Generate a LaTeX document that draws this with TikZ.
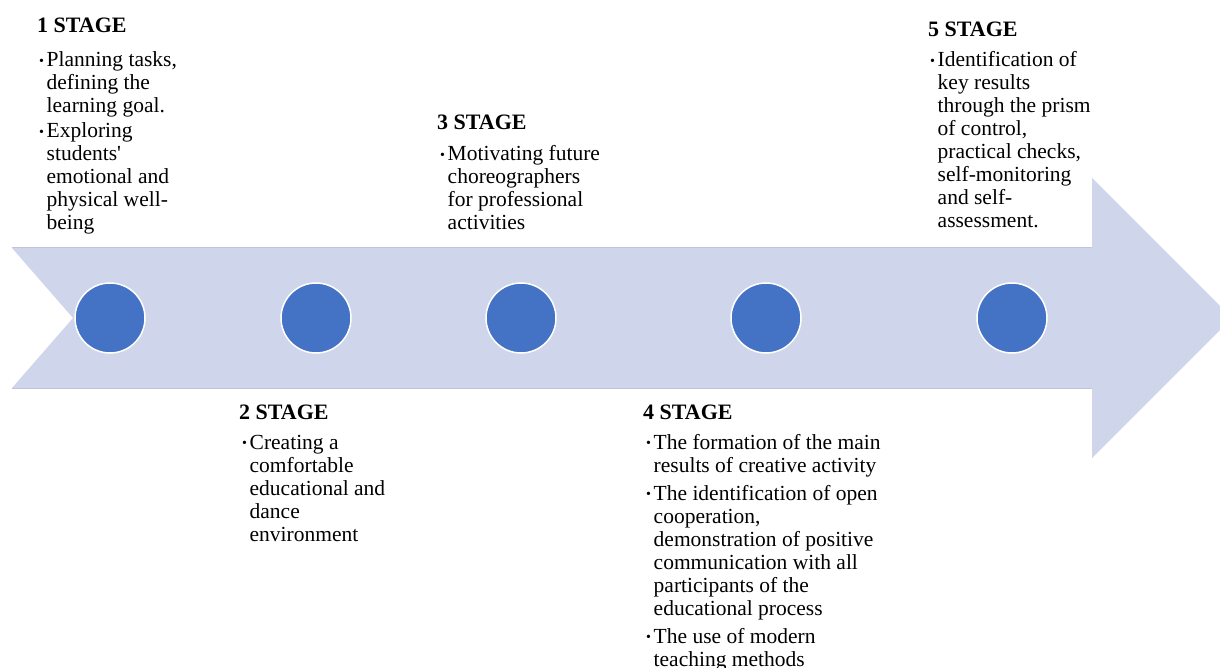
\documentclass[tikz,border=0pt]{standalone}
\usepackage{fontspec}
\setmainfont{Liberation Serif}
\usepackage{xcolor}
\usetikzlibrary{positioning}
\definecolor{Band_Blue}{HTML}{CFD5EA}
\definecolor{Dot_Blue}{HTML}{4472C4}
\definecolor{Edge_Gray}{HTML}{C2C6D2}

\newcommand{\stagebullet}{\makebox[7.5pt][l]{\raisebox{1.5pt}{\fontsize{14}{14}\selectfont\textbullet}}}

\begin{document}
\begin{tikzpicture}[x=1pt, y=-1pt,
    stagehead/.style={inner sep=0pt, anchor=base west, font=\fontsize{22}{23}\selectfont\bfseries},
    stagetext/.style={inner sep=0pt, anchor=base west, font=\fontsize{21.5}{23}\selectfont},
    stagedot/.style={circle, minimum size=70pt, inner sep=0pt, fill=Dot_Blue, draw=white, line width=1.5pt}]
    \clip (0,0) rectangle (1220,668);

    % Band with arrow head
    \fill[Band_Blue] (12,248) -- (1092,248) -- (1092,178) -- (1232,318) -- (1092,458)
        -- (1092,388) -- (12,388) -- (73,318) -- cycle;
    \draw[Edge_Gray, line width=1pt] (12,248) -- (1092,248);
    \draw[Edge_Gray, line width=1pt] (12,388) -- (1092,388);

    % Stage dots
    \node[stagedot] (dot1) at (110,318) {};
    \node[stagedot] (dot2) at (316,318) {};
    \node[stagedot] (dot3) at (521,318) {};
    \node[stagedot] (dot4) at (766,318) {};
    \node[stagedot] (dot5) at (1012,318) {};

    % Stage 1
    \node[stagehead] (head1) at (37,33) {1 STAGE};
    \node[stagetext] (text1) at (39,67) {\begin{tabular}[t]{@{}l@{}l@{}}
        \stagebullet & Planning tasks,\\
        & defining the\\
        & learning goal.\\[2pt]
        \stagebullet & Exploring\\
        & students\textquotesingle\\
        & emotional and\\
        & physical well-\\
        & being
    \end{tabular}};

    % Stage 2
    \node[stagehead] (head2) at (239,419) {2 STAGE};
    \node[stagetext] (text2) at (242,449) {\begin{tabular}[t]{@{}l@{}l@{}}
        \stagebullet & Creating a\\
        & comfortable\\
        & educational and\\
        & dance\\
        & environment
    \end{tabular}};

    % Stage 3
    \node[stagehead] (head3) at (437,130) {3 STAGE};
    \node[stagetext] (text3) at (440,161) {\begin{tabular}[t]{@{}l@{}l@{}}
        \stagebullet & Motivating future\\
        & choreographers\\
        & for professional\\
        & activities
    \end{tabular}};

    % Stage 4
    \node[stagehead] (head4) at (643,419) {4 STAGE};
    \node[stagetext] (text4) at (646,449) {\begin{tabular}[t]{@{}l@{}l@{}}
        \stagebullet & The formation of the main\\
        & results of creative activity\\[5pt]
        \stagebullet & The identification of open\\
        & cooperation,\\
        & demonstration of positive\\
        & communication with all\\
        & participants of the\\
        & educational process\\[5pt]
        \stagebullet & The use of modern\\
        & teaching methods
    \end{tabular}};

    % Stage 5
    \node[stagehead] (head5) at (928,37) {5 STAGE};
    \node[stagetext] (text5) at (930,67) {\begin{tabular}[t]{@{}l@{}l@{}}
        \stagebullet & Identification of\\
        & key results\\
        & through the prism\\
        & of control,\\
        & practical checks,\\
        & self-monitoring\\
        & and self-\\
        & assessment.
    \end{tabular}};
\end{tikzpicture}
\end{document}
